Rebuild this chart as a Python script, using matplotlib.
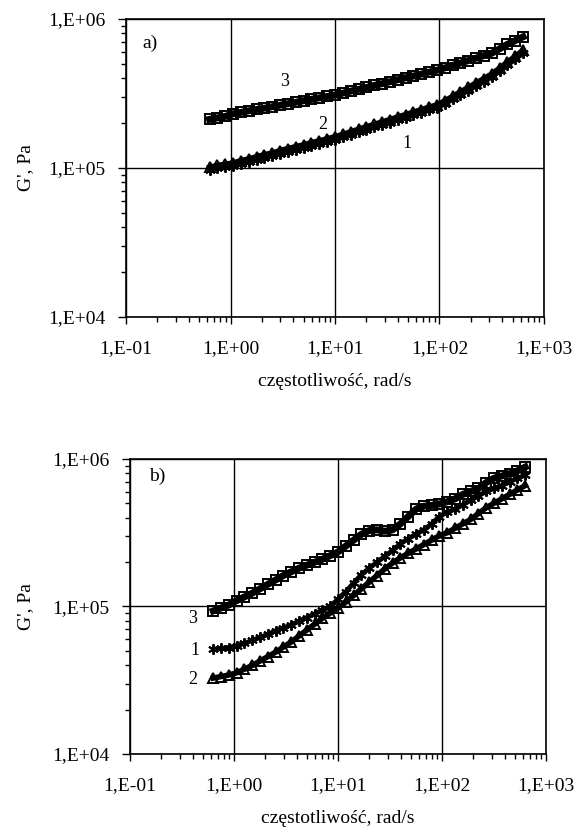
import matplotlib
matplotlib.use("Agg")
import matplotlib.pyplot as plt
from matplotlib.ticker import LogLocator, NullFormatter

plt.rcParams['font.family'] = ['Liberation Serif', 'DejaVu Serif']

# frequency, rad/s
freq = [0.631, 0.750, 0.891, 1.059, 1.259, 1.496, 1.778, 2.113, 2.512, 2.985,
        3.548, 4.217, 5.012, 5.957, 7.079, 8.414, 10.0, 11.89, 14.13, 16.79,
        19.95, 23.71, 28.18, 33.50, 39.81, 47.32, 56.23, 66.83, 79.43, 94.41,
        112.2, 133.4, 158.5, 188.4, 223.9, 266.1, 316.2, 375.8, 446.7, 530.9, 631.0]

# panel a)
a_s1 = [9.66e4, 9.95e4, 1.01e5, 1.035e5, 1.067e5, 1.102e5, 1.135e5, 1.172e5, 1.208e5, 1.247e5,
        1.285e5, 1.327e5, 1.368e5, 1.413e5, 1.455e5, 1.503e5, 1.549e5, 1.607e5, 1.671e5, 1.734e5,
        1.803e5, 1.871e5, 1.945e5, 2.018e5, 2.099e5, 2.178e5, 2.265e5, 2.350e5, 2.443e5, 2.535e5,
        2.692e5, 2.884e5, 3.090e5, 3.311e5, 3.548e5, 3.802e5, 4.074e5, 4.467e5, 4.898e5, 5.370e5, 5.888e5]
a_s2 = [1.01e5, 1.04e5, 1.06e5, 1.08e5, 1.12e5, 1.15e5, 1.19e5, 1.23e5, 1.26e5, 1.31e5,
        1.35e5, 1.39e5, 1.43e5, 1.48e5, 1.52e5, 1.57e5, 1.62e5, 1.68e5, 1.75e5, 1.82e5,
        1.89e5, 1.96e5, 2.04e5, 2.11e5, 2.20e5, 2.28e5, 2.37e5, 2.46e5, 2.56e5, 2.65e5,
        2.82e5, 3.02e5, 3.24e5, 3.47e5, 3.72e5, 3.98e5, 4.27e5, 4.68e5, 5.13e5, 5.62e5, 6.17e5]
a_s3 = [2.12e5, 2.17e5, 2.22e5, 2.31e5, 2.36e5, 2.42e5, 2.47e5, 2.52e5, 2.58e5, 2.64e5,
        2.70e5, 2.76e5, 2.83e5, 2.89e5, 2.96e5, 3.02e5, 3.09e5, 3.18e5, 3.28e5, 3.37e5,
        3.47e5, 3.58e5, 3.68e5, 3.79e5, 3.91e5, 4.03e5, 4.14e5, 4.27e5, 4.40e5, 4.53e5,
        4.69e5, 4.88e5, 5.06e5, 5.26e5, 5.46e5, 5.68e5, 5.89e5, 6.31e5, 6.76e5, 7.16e5, 7.59e5]

# panel b)
b_s1 = [5.13e4, 5.19e4, 5.27e4, 5.43e4, 5.62e4, 5.89e4, 6.17e4, 6.46e4, 6.84e4, 7.16e4,
        7.50e4, 7.94e4, 8.41e4, 8.91e4, 9.44e4, 1.0e5, 1.122e5, 1.259e5, 1.445e5, 1.641e5,
        1.820e5, 1.995e5, 2.188e5, 2.399e5, 2.661e5, 2.884e5, 3.090e5, 3.311e5, 3.631e5, 4.074e5,
        4.365e5, 4.571e5, 4.898e5, 5.248e5, 5.623e5, 6.026e5, 6.310e5, 6.607e5, 6.998e5, 7.413e5, 7.762e5]
b_s2 = [3.27e4, 3.35e4, 3.43e4, 3.55e4, 3.76e4, 3.98e4, 4.27e4, 4.57e4, 4.90e4, 5.31e4,
        5.75e4, 6.31e4, 6.92e4, 7.59e4, 8.32e4, 9.02e4, 9.77e4, 1.072e5, 1.189e5, 1.318e5,
        1.462e5, 1.622e5, 1.799e5, 1.972e5, 2.138e5, 2.291e5, 2.455e5, 2.630e5, 2.818e5, 3.020e5,
        3.162e5, 3.388e5, 3.631e5, 3.890e5, 4.266e5, 4.677e5, 5.012e5, 5.370e5, 5.754e5, 6.166e5, 6.607e5]
b_s3 = [9.33e4, 9.77e4, 1.023e5, 1.096e5, 1.161e5, 1.230e5, 1.318e5, 1.413e5, 1.514e5, 1.622e5,
        1.718e5, 1.820e5, 1.905e5, 1.995e5, 2.089e5, 2.213e5, 2.344e5, 2.570e5, 2.818e5, 3.090e5,
        3.273e5, 3.311e5, 3.236e5, 3.311e5, 3.631e5, 4.074e5, 4.571e5, 4.786e5, 4.842e5, 4.955e5,
        5.129e5, 5.370e5, 5.754e5, 6.026e5, 6.310e5, 6.918e5, 7.413e5, 7.674e5, 7.943e5, 8.318e5, 8.810e5]

x_ticks = [0.1, 1, 10, 100, 1000]
x_labels = ["1,E-01", "1,E+00", "1,E+01", "1,E+02", "1,E+03"]
y_ticks = [1e4, 1e5, 1e6]
y_labels = ["1,E+04", "1,E+05", "1,E+06"]

fig = plt.figure(figsize=(5.81, 8.30), dpi=100)
ax_a = fig.add_axes([0.2169, 0.6181, 0.9363 - 0.2169, 0.9771 - 0.6181])
ax_b = fig.add_axes([0.2238, 0.0916, 0.9398 - 0.2238, 0.4470 - 0.0916])

FS = 14

def style(ax, ylab_x):
    ax.set_xscale('log')
    ax.set_yscale('log')
    ax.set_xlim(0.1, 1000)
    ax.set_ylim(1e4, 1e6)
    ax.set_xticks(x_ticks)
    ax.set_xticklabels(x_labels, fontsize=FS)
    ax.set_yticks(y_ticks)
    ax.set_yticklabels(y_labels, fontsize=FS)
    ax.xaxis.set_minor_locator(LogLocator(base=10, subs=range(2, 10), numticks=20))
    ax.yaxis.set_minor_locator(LogLocator(base=10, subs=range(2, 10), numticks=20))
    ax.xaxis.set_minor_formatter(NullFormatter())
    ax.yaxis.set_minor_formatter(NullFormatter())
    ax.tick_params(axis='x', which='major', direction='out', length=5, width=1, color='black', pad=12)
    ax.tick_params(axis='y', which='major', direction='out', length=6, width=1, color='black', pad=9)
    ax.tick_params(which='minor', direction='out', length=3.5, width=1, color='black')
    ax.grid(True, which='major', color='black', linewidth=1)
    for s in ax.spines.values():
        s.set_color('black')
        s.set_linewidth(1.2)
    ax.set_xlabel("częstotliwość, rad/s", fontsize=FS, labelpad=11)
    ax.set_ylabel("G', Pa", fontsize=FS)
    ax.yaxis.set_label_coords(ylab_x, 0.5)
    ax.set_axisbelow(True)

def plot_series(ax, s1, s2, s3):
    ax.plot(freq, s1, linestyle='-', linewidth=3.5, marker=(6, 2, 0), markersize=7.5,
            markeredgewidth=1.4, color='black', zorder=3)
    ax.plot(freq, s2, linestyle='-', linewidth=4, color='black', marker='^', markersize=7,
            markerfacecolor='none', markeredgecolor='black', markeredgewidth=1.4, zorder=3)
    ax.plot(freq, s3, linestyle='-', linewidth=5, color='black', marker='s', markersize=6.5,
            markerfacecolor='none', markeredgecolor='black', markeredgewidth=1.4, zorder=4)

style(ax_a, -0.22)
plot_series(ax_a, a_s1, a_s2, a_s3)
style(ax_b, -0.23)
plot_series(ax_b, b_s1, b_s2, b_s3)

ax_a.text(0.04, 0.92, "a)", transform=ax_a.transAxes, fontsize=FS, ha='left', va='center')
ax_a.text(3.3, 3.8e5, "3", fontsize=FS - 1, ha='center', va='center')
ax_a.text(7.7, 1.96e5, "2", fontsize=FS - 1, ha='center', va='center')
ax_a.text(49, 1.47e5, "1", fontsize=FS - 1, ha='center', va='center')

ax_b.text(0.065, 0.94, "b)", transform=ax_b.transAxes, fontsize=FS, ha='center', va='center')
ax_b.text(0.40, 8.3e4, "3", fontsize=FS - 1, ha='center', va='center')
ax_b.text(0.42, 5.0e4, "1", fontsize=FS - 1, ha='center', va='center')
ax_b.text(0.40, 3.2e4, "2", fontsize=FS - 1, ha='center', va='center')

fig.savefig("out.png", dpi=100)
